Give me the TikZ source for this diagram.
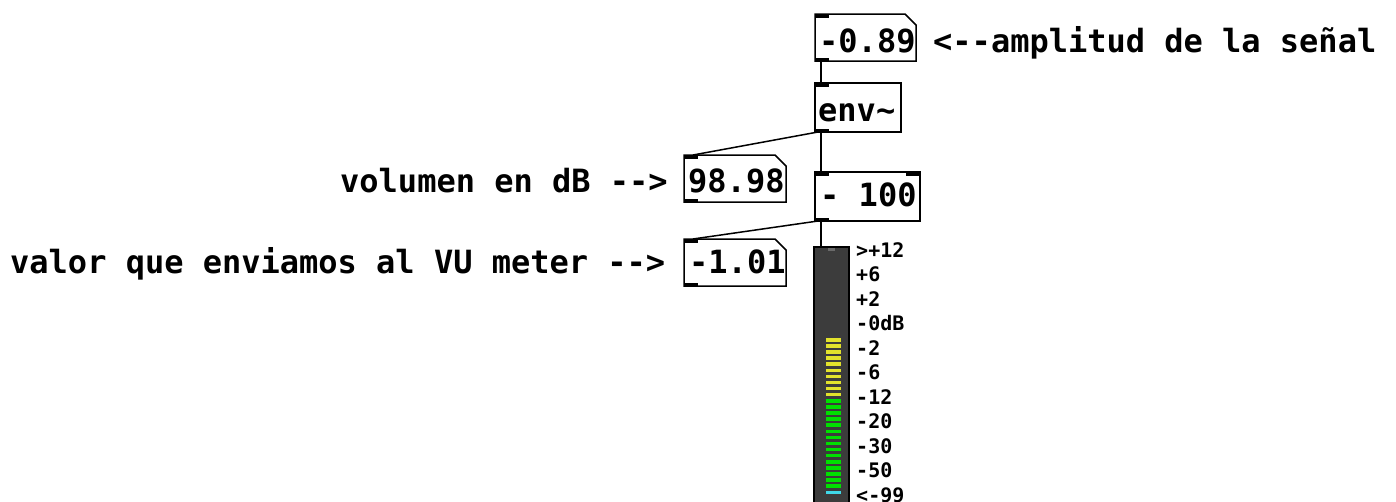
\documentclass[tikz,border=0pt]{standalone}
\usepackage{fontspec}
\setmonofont{DejaVu Sans Mono}
\usetikzlibrary{calc}
\definecolor{vubg}{HTML}{3C3C3C}
\definecolor{ledyellow}{HTML}{E2E22C}
\definecolor{ledgreen}{HTML}{00E000}
\definecolor{ledcyan}{HTML}{40D8E8}
\definecolor{portgrey}{HTML}{6A6A6A}
\begin{document}
\begin{tikzpicture}[x=1pt,y=-1pt,
  objbox/.style={draw=black, line width=1.5pt, inner sep=0pt, outer sep=0pt, anchor=north west},
  numbox/.style={inner sep=0pt, outer sep=0pt, anchor=north west},
  conn/.style={draw=black, line width=1.5pt},
  port/.style={fill=black},
  big/.style={anchor=base west, inner sep=0pt, font=\ttfamily\bfseries\fontsize{32}{32}\selectfont},
  small/.style={anchor=base west, inner sep=0pt, font=\ttfamily\bfseries\fontsize{20}{20}\selectfont},
  led/.style={draw=none}]
\useasboundingbox (0,0) rectangle (1396,501);
\fill[white] (0,0) rectangle (1396,501);

% objects and number boxes
\node[numbox, minimum width=101pt, minimum height=47pt] (amp) at (815,14) {};
\node[objbox, minimum width=86pt, minimum height=49pt] (env) at (815,83) {};
\node[numbox, minimum width=102pt, minimum height=47pt] (db) at (684,155) {};
\node[objbox, minimum width=105pt, minimum height=49pt] (sub) at (815,172) {};
\node[numbox, minimum width=102pt, minimum height=47pt] (vuval) at (684,239) {};

% number-box outlines with the clipped corner
\foreach \b in {amp,db,vuval}{
  \draw[line width=1.5pt, line join=miter] (\b.north west) -- ([xshift=-11pt]\b.north east)
    -- ([yshift=-11pt]\b.north east) -- (\b.south east) -- (\b.south west) -- cycle;
}

% VU meter body
\node[numbox, fill=vubg, draw=black, line width=1.5pt, minimum width=35pt, minimum height=260pt] (vu) at (814,247) {};
\fill[portgrey] ([xshift=14pt,yshift=-1pt]vu.north west) rectangle ([xshift=21pt,yshift=-3.5pt]vu.north west);

% LED segments
\foreach \i in {0,...,9}{
  \fill[ledyellow] (826,{338+6.1*\i}) rectangle (840.5,{341.5+6.1*\i});
}
\foreach \i in {10,...,24}{
  \fill[ledgreen] (826,{338+6.1*\i}) rectangle (840.5,{341.5+6.1*\i});
}
\fill[ledcyan] (826,{338+6.1*25}) rectangle (840.5,{341.5+6.1*25});

% inlets and outlets
\foreach \b in {amp,env,db,sub,vuval}{
  \fill[port] (\b.north west) rectangle ([xshift=14pt,yshift=-3.5pt]\b.north west);
  \fill[port] (\b.south west) rectangle ([xshift=14pt,yshift=3.5pt]\b.south west);
}
\fill[port] ([xshift=-14pt]sub.north east) rectangle ([yshift=-3.5pt]sub.north east);

% connections
\draw[conn] ([xshift=6pt]amp.south west) -- ([xshift=6pt]env.north west);
\draw[conn] ([xshift=6pt]env.south west) -- ([xshift=6pt]sub.north west);
\draw[conn] ([xshift=3pt]env.south west) -- ([xshift=9pt]db.north west);
\draw[conn] ([xshift=6pt]sub.south west) -- ([xshift=7pt]vu.north west);
\draw[conn] ([xshift=3pt]sub.south west) -- ([xshift=9pt]vuval.north west);

% box contents
\node[big] (tamp) at (819,52) {-0.89};
\node[big] (tenv) at (818,121) {env\textasciitilde};
\node[big] (tdb) at (688,192) {98.98};
\node[big] (tsub) at (820,206) {- 100};
\node[big] (tvuval) at (689,273) {-1.01};

% comments
\node[big] (camp) at (933,52) {<--amplitud de la señal};
\node[big] (cdb) at (340,192) {volumen en dB -->};
\node[big] (cvu) at (10,273) {valor que enviamos al VU meter -->};

% VU scale
\foreach \t [count=\k from 0] in {>+12,+6,+2,-0dB,-2,-6,-12,-20,-30,-50,<-99}{
  \node[small] (s\k) at (856,{257+24.5*\k}) {\t};
}
\end{tikzpicture}
\end{document}
